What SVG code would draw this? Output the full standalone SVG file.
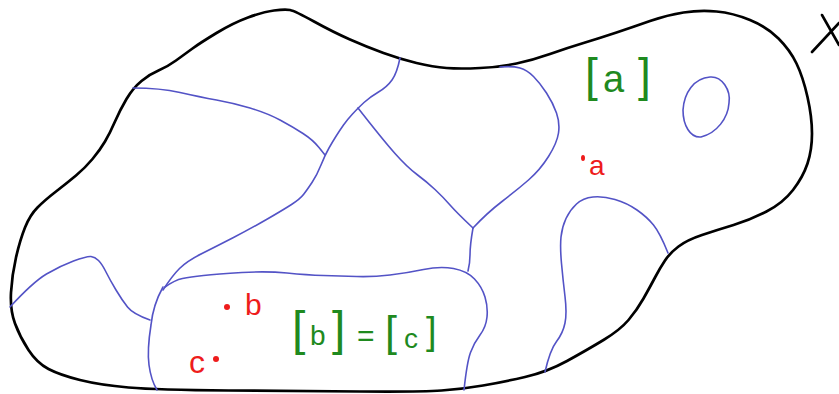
<svg xmlns="http://www.w3.org/2000/svg" width="839" height="394" viewBox="0 0 839 394">
<style>
.outline{fill:none;stroke:#000;stroke-width:2.7;stroke-linecap:round;stroke-linejoin:round}
.cut{fill:none;stroke:#5353c6;stroke-width:1.6;stroke-linecap:round;stroke-linejoin:round}
.green{fill:#1f8a1f;font-family:"Liberation Sans",Arial,sans-serif}
.red{fill:#ee1c1c;font-family:"Liberation Sans",Arial,sans-serif}
.dot{fill:#ee1c1c}
</style>
<rect width="839" height="394" fill="#fff"/>
<g id="outline">
<path class="outline" d="M15,323.5 Q10,310 11,292.5 Q12,275 16,257.5 Q20,240 25,227.5 Q30,215 37.5,207.5 Q45,200 56,191.5 Q67,183 76,175.5 Q85,168 92.5,159 Q100,150 105,141.5 Q110,133 115,121.5 Q120,110 126.5,99 Q133,88 141.5,81 Q150,74 158.5,70.5 Q167,67 176,60.5 Q185,54 192.5,48.5 Q200,43 216.5,33 Q233,23 248,17.5 Q263,12 274,10.5 Q285,9 290,10 Q295,11 314,21.5 Q333,32 350,39.5 Q367,47 383.5,53 Q400,59 416.5,63 Q433,67 446.5,68 Q460,69 480,68 Q500,67 516.5,63.5 Q533,60 550,54 Q567,48 583.5,43 Q600,38 616.5,32.5 Q633,27 650,21 Q667,15 683.5,12.5 Q700,10 716.5,11.5 Q733,13 750,20 Q767,27 778.5,38.5 Q790,50 796.5,63.5 Q803,77 807.5,97 Q812,117 812,133.5 Q812,150 807.5,163.5 Q803,177 793,190 Q783,203 766.5,211.5 Q750,220 733.5,225 Q717,230 702,235 Q687,240 678.5,246.5 Q670,253 665,260.5 Q660,268 655,277.5 Q650,287 643.5,298.5 Q637,310 628.5,320 Q620,330 603.5,340 Q587,350 567,361 Q547,372 525,377 Q503,382 483,385.5 Q463,389 441.5,390.5 Q420,392 360,391.5 Q300,391 228.5,390.5 Q157,390 128.5,387.5 Q100,385 80,380 Q60,375 48.5,369 Q37,363 28.5,350 Q20,337 15,323.5 Z"/>
</g>
<g id="cross">
<path class="outline" d="M812,52 L839,23 M822,15 L839,45" style="stroke-width:2.6"/>
</g>
<g id="cuts">
<path class="cut" d="M133,88 Q160,88 180,92.5 Q200,97 216.5,100 Q233,103 250,108 Q267,113 280,120 Q293,127 303,133.5 Q313,140 319,147.5 L325,155"/>
<path class="cut" d="M400,58 Q397,73 392,80 Q387,87 378.5,92 Q370,97 364,102.5 Q358,108 352.5,114 Q347,120 343.5,125 Q340,130 336.5,135.5 Q333,141 329,148 Q325,155 321,165 Q317,175 312,182.5 Q307,190 303.5,194.5 Q300,199 291.5,204.5 Q283,210 266.5,219.5 Q250,229 233.5,237.5 Q217,246 202,253.5 Q187,261 179.5,268.5 Q172,276 163,290"/>
<path class="cut" d="M165,287 Q175,280 182.5,278.5 Q190,277 203.5,275.5 Q217,274 242,272.5 Q267,271 287,273 Q307,275 323.5,275.5 Q340,276 356.5,276.5 Q373,277 390,275 Q407,273 423.5,269.5 Q440,266 453.5,268.5 Q467,271 474.5,279 Q482,287 485,297 Q488,307 487,317 Q486,327 480,335 Q474,343 470.5,352.5 Q467,362 464,390"/>
<path class="cut" d="M163,287 Q153,305 151,325 Q147,350 149,365 Q151,380 157,390"/>
<path class="cut" d="M10,307 Q33,282 46.5,274 Q60,266 73.5,261 Q87,256 91,256.5 Q95,257 98.5,260.5 Q102,264 106,272 Q110,280 116,290 Q122,300 127.5,307 Q133,314 150,320"/>
<path class="cut" d="M358,108 Q383,140 395,153.5 Q407,167 417,174.5 Q427,182 435,189.5 Q443,197 450,205 Q457,213 473,228"/>
<path class="cut" d="M473,228 Q487,213 502,201.5 Q517,190 528.5,180 Q540,170 548.5,156.5 Q557,143 558.5,133 Q560,123 556.5,113 Q553,103 546.5,93 Q540,83 533.5,76.5 Q527,70 520,68 Q513,66 500,67"/>
<path class="cut" d="M473,228 Q470,245 470,255 Q470,263 468,271"/>
<path class="cut" d="M545,372 Q550,350 556.5,341.5 Q563,333 565,323 Q567,313 565,296.5 Q563,280 561.5,263.5 Q560,247 561,237 Q562,227 566,218.5 Q570,210 576.5,204 Q583,198 593,197 Q603,196 615,199.5 Q627,203 637,210 Q647,217 653.5,225 Q660,233 668,253"/>
<path class="cut" d="M710,77 C722,76 731,90 729,103 C728,118 717,133 701,137 C690,138 683,125 683,110 C684,93 694,78 710,77 Z"/>
</g>
<g id="label-a">
<text class="green"><tspan x="585" y="91" font-size="46">[</tspan><tspan x="603" y="92" font-size="38">a</tspan><tspan x="638" y="91" font-size="46">]</tspan></text>
</g>
<g id="label-bc">
<text class="green"><tspan x="292" y="345" font-size="48">[</tspan><tspan x="310" y="345" font-size="28">b</tspan><tspan x="332" y="345" font-size="48">]</tspan> <tspan x="357" y="346" font-size="30">=</tspan> <tspan x="385" y="346" font-size="43">[</tspan><tspan x="404" y="348" font-size="28">c</tspan><tspan x="426" y="344" font-size="38">]</tspan></text>
</g>
<g id="point-a">
<ellipse class="dot" cx="583" cy="158" rx="2" ry="3"/>
<text class="red" x="589" y="175" font-size="28">a</text>
</g>
<g id="point-b">
<circle class="dot" cx="227" cy="307" r="3"/>
<text class="red" x="245" y="315" font-size="30">b</text>
</g>
<g id="point-c">
<circle class="dot" cx="216" cy="359" r="3"/>
<text class="red" x="189" y="373" font-size="32">c</text>
</g>
</svg>
